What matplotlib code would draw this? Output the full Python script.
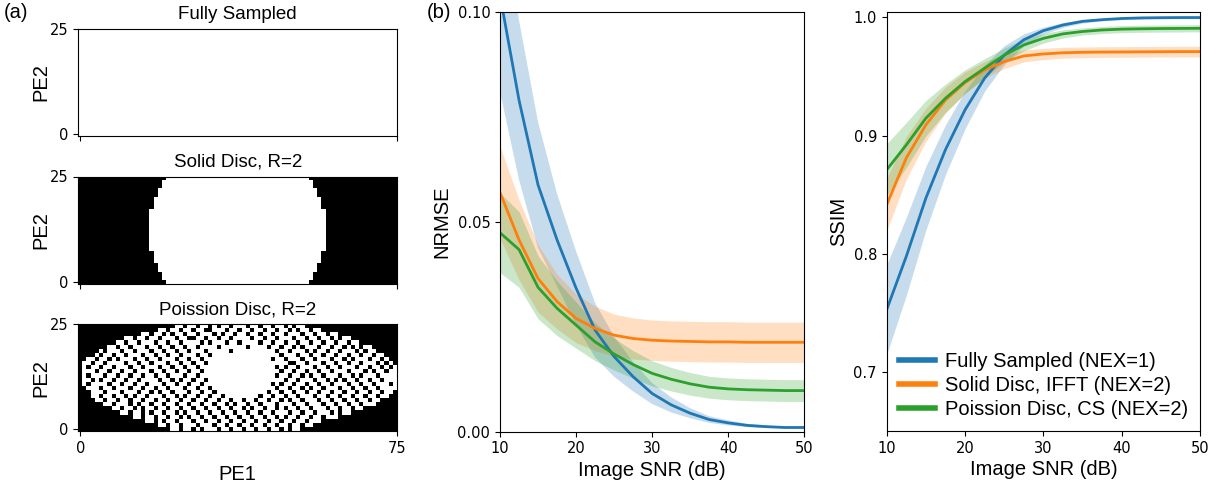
import numpy as np
import matplotlib
matplotlib.use("Agg")
import matplotlib.pyplot as plt

plt.rcParams['font.family'] = ['Liberation Sans', 'DejaVu Sans']

# ---- data -----------------------------------------------------------
snr = [10, 12.5, 15, 17.5, 20, 22.5, 25, 27.5, 30, 32.5, 35, 37.5, 40, 42.5, 45, 47.5, 50]
labels = ['Fully Sampled (NEX=1)', 'Solid Disc, IFFT (NEX=2)', 'Poission Disc, CS (NEX=2)']

nrmse_full = [0.104, 0.079, 0.0588, 0.0457, 0.0342, 0.0242, 0.0179, 0.0131, 0.0091, 0.0064,
              0.0044, 0.0029, 0.0021, 0.0015, 0.0012, 0.0010, 0.0010]
nrmse_full_sd = [0.023, 0.019, 0.015, 0.011, 0.0088, 0.0065, 0.0048, 0.0035, 0.0025, 0.0018,
                 0.0012, 0.0008, 0.0006, 0.0004, 0.0003, 0.0002, 0.0002]
nrmse_solid = [0.057, 0.0457, 0.0365, 0.031, 0.027, 0.0246, 0.023, 0.0222, 0.0218, 0.0216,
               0.0215, 0.0214, 0.0214, 0.0213, 0.0213, 0.0213, 0.0213]
nrmse_solid_sd = [0.011, 0.0095, 0.008, 0.0065, 0.0058, 0.0053, 0.005, 0.0049, 0.0048, 0.0048,
                  0.0048, 0.0048, 0.0048, 0.0048, 0.0048, 0.0048, 0.0048]
nrmse_pd = [0.0474, 0.0434, 0.0344, 0.0294, 0.0254, 0.0214, 0.0185, 0.016, 0.0139, 0.0125,
            0.0114, 0.0106, 0.0102, 0.0100, 0.0099, 0.0098, 0.0098]
nrmse_pd_sd = [0.0095, 0.009, 0.0075, 0.0065, 0.0055, 0.0045, 0.0038, 0.0033, 0.003, 0.0028,
               0.0027, 0.0026, 0.0026, 0.0026, 0.0026, 0.0026, 0.0026]

ssim_full = [0.7527, 0.7977, 0.847, 0.888, 0.9217, 0.9485, 0.968, 0.981, 0.9887, 0.9935,
             0.9966, 0.998, 0.999, 0.9995, 0.9997, 0.9998, 0.9998]
ssim_full_sd = [0.038, 0.033, 0.027, 0.021, 0.016, 0.011, 0.008, 0.005, 0.003, 0.002,
                0.0015, 0.001, 0.001, 0.001, 0.001, 0.001, 0.001]
ssim_solid = [0.8414, 0.881, 0.909, 0.930, 0.9448, 0.9555, 0.9625, 0.9673, 0.969, 0.9700,
              0.9704, 0.9706, 0.9707, 0.9708, 0.9709, 0.971, 0.971]
ssim_solid_sd = [0.022, 0.018, 0.014, 0.011, 0.009, 0.007, 0.006, 0.005, 0.0048, 0.0046,
                 0.0045, 0.0045, 0.0045, 0.0045, 0.0045, 0.0045, 0.0045]
ssim_pd = [0.871, 0.892, 0.9146, 0.9315, 0.9456, 0.957, 0.968, 0.9766, 0.9822, 0.986,
           0.988, 0.9893, 0.990, 0.9903, 0.9905, 0.9906, 0.9907]
ssim_pd_sd = [0.022, 0.019, 0.015, 0.012, 0.010, 0.008, 0.006, 0.005, 0.004, 0.0035,
              0.003, 0.003, 0.003, 0.003, 0.003, 0.003, 0.003]

# sampling masks, 26 rows (PE2) x 76 columns (PE1)
n_pe1, n_pe2 = 76, 26
disc_radius = 21

# poisson disc mask, rows listed top to bottom: first/last sampled column and skipped columns
pd_first = [23, 19, 15, 11, 9, 7, 5, 4, 2, 1, 1, 1, 1, 1, 1, 2, 3, 3, 4, 6, 8, 10, 13, 16, 19, 22]
pd_last = [53, 57, 61, 64, 66, 69, 70, 72, 73, 74, 75, 75, 75, 75, 75, 75, 74, 73, 71, 70, 67, 64, 61, 57, 55, 52]
pd_holes = [
    [25, 28, 31, 33, 36, 40, 43, 46, 49, 51],
    [21, 24, 27, 30, 31, 35, 38, 41, 44, 47, 50, 52, 55],
    [17, 20, 22, 25, 28, 32, 34, 37, 40, 43, 46, 49, 53, 56, 59],
    [13, 16, 19, 23, 26, 27, 30, 33, 36, 41, 44, 47, 51, 54, 57, 60, 62],
    [11, 14, 18, 21, 24, 29, 31, 35, 38, 43, 46, 49, 52, 55, 58, 61, 64],
    [9, 12, 16, 19, 22, 25, 28, 33, 40, 45, 48, 51, 53, 57, 60, 63, 65, 67],
    [6, 10, 13, 17, 20, 23, 26, 30, 36, 47, 50, 54, 56, 59, 62, 66, 68],
    [5, 8, 11, 15, 18, 21, 24, 28, 31, 48, 52, 55, 58, 61, 64, 67, 70],
    [4, 7, 9, 13, 16, 19, 23, 26, 29, 46, 49, 53, 56, 60, 63, 65, 69, 72],
    [3, 6, 11, 14, 17, 21, 24, 27, 30, 50, 51, 54, 58, 61, 64, 67, 71, 73],
    [2, 5, 8, 12, 15, 19, 22, 25, 28, 47, 49, 52, 56, 59, 62, 66, 69, 72, 74],
    [4, 7, 10, 13, 17, 20, 23, 26, 29, 48, 51, 54, 57, 60, 64, 68, 70, 73],
    [2, 6, 9, 12, 15, 18, 21, 25, 28, 47, 50, 53, 55, 58, 62, 65, 67, 71],
    [3, 5, 8, 11, 14, 19, 22, 24, 27, 30, 49, 52, 56, 59, 61, 63, 66, 69, 72],
    [2, 7, 10, 13, 16, 20, 23, 26, 29, 46, 48, 51, 54, 57, 60, 64, 67, 70, 74],
    [5, 8, 12, 15, 18, 21, 25, 28, 31, 47, 50, 53, 55, 58, 62, 65, 68, 71],
    [6, 10, 14, 17, 19, 22, 26, 29, 32, 45, 48, 51, 54, 57, 60, 63, 66, 69, 72],
    [5, 8, 11, 13, 16, 20, 23, 25, 28, 31, 34, 43, 46, 49, 52, 56, 59, 62, 65, 68, 71],
    [6, 9, 12, 15, 18, 21, 24, 27, 30, 33, 36, 39, 42, 45, 48, 50, 53, 57, 60, 63, 66, 69],
    [8, 12, 14, 17, 20, 23, 26, 29, 32, 35, 37, 40, 43, 47, 51, 54, 58, 61, 64, 67],
    [10, 13, 15, 18, 21, 24, 27, 30, 33, 36, 39, 41, 44, 47, 49, 52, 55, 59, 62, 65],
    [12, 15, 17, 20, 23, 25, 28, 31, 34, 37, 40, 43, 46, 50, 53, 56, 60, 62],
    [15, 18, 21, 24, 26, 29, 32, 35, 38, 41, 44, 47, 49, 52, 55, 58],
    [18, 20, 23, 27, 30, 33, 36, 39, 42, 45, 48, 51, 54],
    [21, 24, 28, 32, 35, 38, 41, 44, 47, 50, 53],
    [24, 27, 29, 33, 36, 39, 42, 45, 48, 50],
]

# ---- masks ----------------------------------------------------------
mask_full = np.ones((n_pe2, n_pe1))

yy, xx = np.mgrid[0:n_pe2, 0:n_pe1]
mask_solid = ((xx - (n_pe1 - 1) / 2) ** 2 + (yy - (n_pe2 - 1) / 2) ** 2 <= disc_radius ** 2).astype(float)

mask_pd = np.zeros((n_pe2, n_pe1))
for r in range(n_pe2):
    mask_pd[r, pd_first[r]:pd_last[r] + 1] = 1
    mask_pd[r, pd_holes[r]] = 0
mask_pd = np.flipud(mask_pd)  # listed top to bottom, drawn with origin lower

# ---- figure ---------------------------------------------------------
W, H = 1225, 492
fig = plt.figure(figsize=(W / 100, H / 100), dpi=100)


def px_axes(x0, y0, x1, y1):
    return fig.add_axes([x0 / W, 1 - y1 / H, (x1 - x0) / W, (y1 - y0) / H])


def tick_font(ax, size=10.5):
    for lab in ax.get_xticklabels() + ax.get_yticklabels():
        lab.set_family('DejaVu Sans')
        lab.set_fontsize(size)


mask_boxes = [(78.3, 29, 397.3, 135.7), (78.3, 176.5, 397.3, 283.8), (78.3, 324.3, 397.3, 431)]
mask_titles = ['Fully Sampled', 'Solid Disc, R=2', 'Poission Disc, R=2']
for i, (m, box, t) in enumerate(zip([mask_full, mask_solid, mask_pd], mask_boxes, mask_titles)):
    ax = px_axes(*box)
    ax.imshow(m, cmap='gray', vmin=0, vmax=1, origin='lower', aspect='auto',
              extent=[-0.5, 75, -0.5, 25], interpolation='nearest')
    ax.set_xlim(-0.5, 75)
    ax.set_ylim(-0.5, 25)
    ax.set_xticks([0, 75])
    ax.set_yticks([0, 25])
    if i < 2:
        ax.set_xticklabels(['', ''])
    else:
        ax.set_xlabel('PE1', fontsize=14.5, labelpad=7)
    ax.set_ylabel('PE2', fontsize=14.5, labelpad=0)
    ax.set_title(t, fontsize=13.5, pad=7)
    tick_font(ax)

colors = ['#1f77b4', '#ff7f0e', '#2ca02c']

# NRMSE
ax1 = px_axes(500, 12, 804.3, 431.7)
for mu, sd, c in zip([nrmse_full, nrmse_solid, nrmse_pd], [nrmse_full_sd, nrmse_solid_sd, nrmse_pd_sd], colors):
    mu = np.array(mu)
    sd = np.array(sd)
    ax1.fill_between(snr, mu - sd, mu + sd, color=c, alpha=0.25, linewidth=0)
    ax1.plot(snr, mu, color=c, linewidth=2)
ax1.set_xlim(10, 50)
ax1.set_ylim(0, 0.1)
ax1.set_xticks([10, 20, 30, 40, 50])
ax1.set_yticks([0, 0.05, 0.1])
ax1.set_yticklabels(['0.00', '0.05', '0.10'])
ax1.set_xlabel('Image SNR (dB)', fontsize=14.5, labelpad=3)
ax1.set_ylabel('NRMSE', fontsize=14.5)
tick_font(ax1)

# SSIM
ax2 = px_axes(886.7, 12, 1200, 431)
for mu, sd, c, lab in zip([ssim_full, ssim_solid, ssim_pd], [ssim_full_sd, ssim_solid_sd, ssim_pd_sd], colors, labels):
    mu = np.array(mu)
    sd = np.array(sd)
    ax2.fill_between(snr, mu - sd, mu + sd, color=c, alpha=0.25, linewidth=0)
    ax2.plot(snr, mu, color=c, linewidth=2, label=lab)
ax2.set_xlim(10, 50)
ax2.set_ylim(0.65, 1.0045)
ax2.set_xticks([10, 20, 30, 40, 50])
ax2.set_yticks([0.7, 0.8, 0.9, 1.0])
ax2.set_xlabel('Image SNR (dB)', fontsize=14.5, labelpad=3)
ax2.set_ylabel('SSIM', fontsize=14.5)
tick_font(ax2)
leg = ax2.legend(loc='lower left', frameon=False, fontsize=14.5, handlelength=1.8,
                 handletextpad=0.5, borderaxespad=0.2, labelspacing=0.25)
for ln in leg.get_lines():
    ln.set_linewidth(4)

fig.text(4 / W, 1 - 3 / H, '(a)', fontsize=14.5, va='top', ha='left')
fig.text(427 / W, 1 - 3 / H, '(b)', fontsize=14.5, va='top', ha='left')

fig.savefig('out.png', dpi=100)
